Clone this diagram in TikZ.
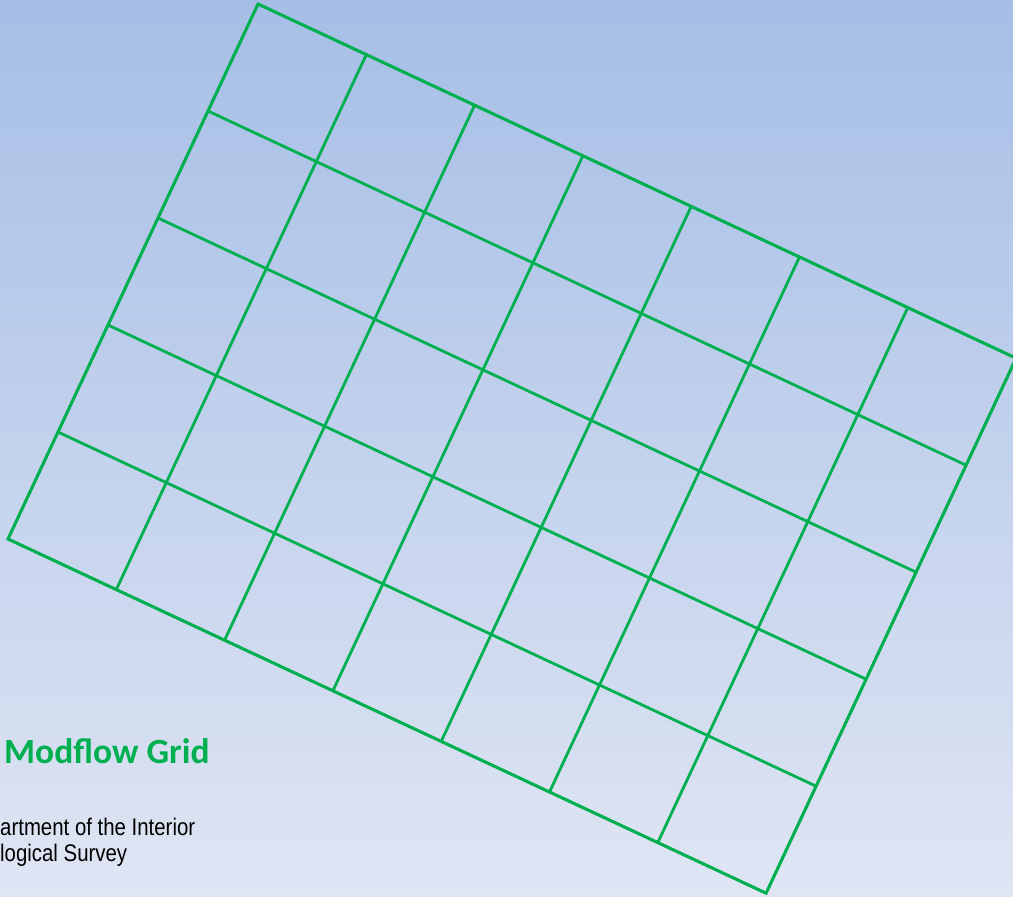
\documentclass[tikz,border=0pt]{standalone}
\usepackage{fontspec}
\setmainfont{Carlito}
\newfontfamily\agencyfont[FakeStretch=0.85]{Liberation Sans}
\usetikzlibrary{positioning}
\definecolor{gridgreen}{RGB}{0,176,80}
\definecolor{skytop}{RGB}{166,190,230}
\definecolor{skybottom}{RGB}{223,229,243}

\begin{document}
\begin{tikzpicture}[
  x=1pt, y=-1pt,
  gridline/.style={draw=gridgreen, line width=2.8pt, line join=miter},
  title/.style={font=\fontsize{35.5}{40}\selectfont\bfseries, text=gridgreen, inner sep=0pt},
  agency/.style={font=\agencyfont\fontsize{24}{27}\selectfont, text=black, inner sep=0pt}
]

% Background
\useasboundingbox (0,0) rectangle (1013,897);
\clip (0,0) rectangle (1013,897);
\shade[top color=skytop, bottom color=skybottom] (0,0) rectangle (1013,897);

% Rotated grid, 7 columns by 5 rows
\begin{scope}[shift={(258,4)}, x={(108.3pt,-50.6pt)}, y={(-50pt,-107pt)}]
  \foreach \col in {0,...,7}
    \draw[gridline] (\col,0) -- (\col,5);
  \foreach \row in {0,...,5}
    \draw[gridline] (0,\row) -- (7,\row);
  \draw[gridline] (0,0) -- (7,0) -- (7,5) -- (0,5) -- cycle;
\end{scope}

% Title
\node[title, anchor=base west] (gridtitle) at (4,763) {Modflow Grid};

% Agency lines
\node[agency, anchor=base west] (dept) at (0,835) {artment of the Interior};
\node[agency, anchor=base west] (survey) at (0,861) {logical Survey};

\end{tikzpicture}
\end{document}
